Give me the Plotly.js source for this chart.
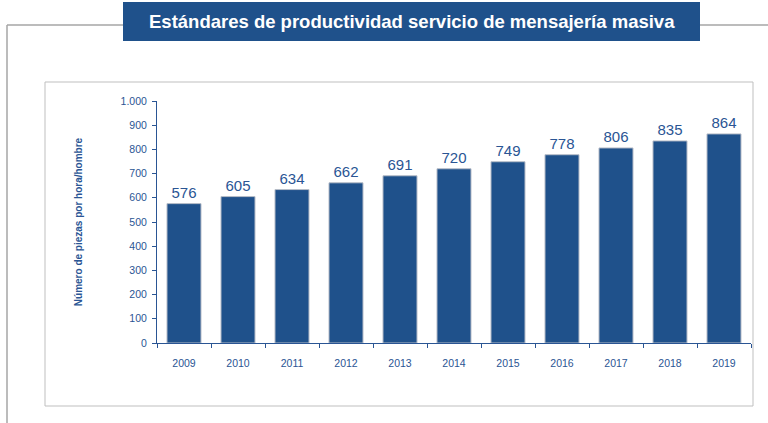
<!DOCTYPE html>
<html>
<head>
<meta charset="utf-8">
<script src="https://cdn.plot.ly/plotly-3.0.1.min.js"></script>
<style>html,body{margin:0;padding:0;background:#fff;}#chart{width:768px;height:423px;}</style>
</head>
<body>
<div id="chart"></div>
<script>
const years = ["2009","2010","2011","2012","2013","2014","2015","2016","2017","2018","2019"];
const values = [576, 605, 634, 662, 691, 720, 749, 778, 806, 835, 864];
const titleText = "Estándares de productividad servicio de mensajería masiva";
const yTitle = "Número de piezas por hora/hombre";

const W = 768, H = 423;
const L = 157, R = 751, T = 101, B = 343;
const px = p => (p - L) / (R - L);
const py = q => (B - q) / (B - T);

const barColor = "#1F518B";
const textColor = "#2A5594";

const trace = {
  type: "bar",
  x: years,
  y: values,
  marker: {color: barColor, line: {color: "#B8BEC8", width: 1}},
  text: values.map(String),
  textposition: "outside",
  textfont: {family: "Liberation Sans, Arial, sans-serif", size: 15, color: "#2A5594"},
  cliponaxis: false,
  hoverinfo: "none"
};

const layout = {
  width: W, height: H,
  margin: {l: L, r: W - R, t: T, b: H - B, pad: 0},
  paper_bgcolor: "#ffffff",
  plot_bgcolor: "rgba(0,0,0,0)",
  separators: ",.",
  showlegend: false,
  bargap: 0.37,
  font: {family: "Liberation Sans, Arial, sans-serif", color: textColor},
  xaxis: {
    type: "category",
    showgrid: false,
    zeroline: false,
    showline: true, linecolor: "#2A5594", linewidth: 1,
    ticks: "outside", ticklen: 4, tickcolor: "#2A5594", tickson: "boundaries",
    tickfont: {size: 10.5, color: textColor},
    ticklabelstandoff: 10
  },
  yaxis: {
    range: [0, 1000],
    tickvals: [0,100,200,300,400,500,600,700,800,900,1000],
    tickformat: ",d",
    showgrid: false,
    zeroline: false,
    showline: true, linecolor: "#2A5594", linewidth: 1,
    ticks: "outside", ticklen: 4, tickcolor: "#2A5594",
    tickfont: {size: 10.5, color: textColor},
    ticklabelstandoff: 3,
    title: {text: yTitle, font: {size: 10, color: textColor, weight: "bold"}, standoff: 36}
  },
  shapes: [
    {type: "line", xref: "paper", yref: "paper", x0: px(7), x1: px(768), y0: py(25), y1: py(25), line: {color: "#A6A6A6", width: 1.5}, layer: "below"},
    {type: "line", xref: "paper", yref: "paper", x0: px(7), x1: px(7), y0: py(25), y1: py(423), line: {color: "#A6A6A6", width: 1.5}, layer: "below"},
    {type: "rect", xref: "paper", yref: "paper", x0: px(45), x1: px(753), y0: py(82), y1: py(406), line: {color: "#BFBFBF", width: 1}, layer: "below"},
    {type: "rect", xref: "paper", yref: "paper", x0: px(123), x1: px(700), y0: py(2), y1: py(41), fillcolor: "#1F518B", line: {width: 0}, layer: "above"}
  ],
  annotations: [
    {xref: "paper", yref: "paper", x: px(411.5), y: py(21.5), text: "<b>" + titleText + "</b>", showarrow: false,
     xanchor: "center", yanchor: "middle", font: {family: "Liberation Sans, Arial, sans-serif", size: 18.5, color: "#ffffff"}}
  ]
};

Plotly.newPlot("chart", [trace], layout, {displayModeBar: false, staticPlot: true});
</script>
</body>
</html>
